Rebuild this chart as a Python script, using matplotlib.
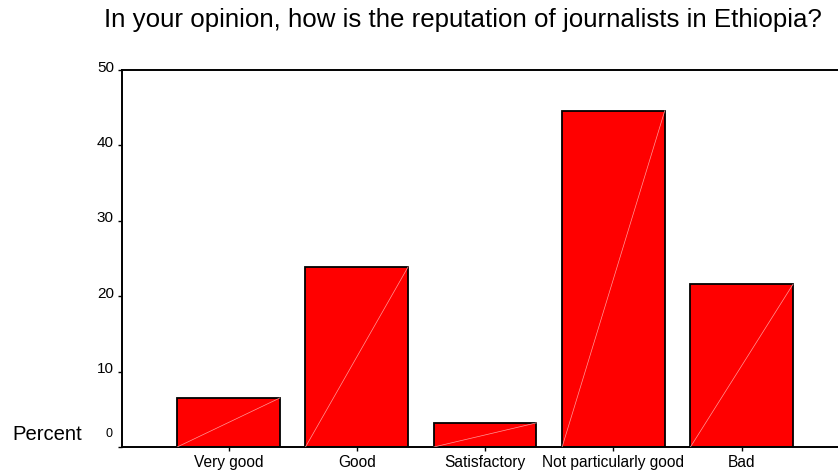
import matplotlib
matplotlib.use("Agg")
import matplotlib.pyplot as plt

categories = ["Very good", "Good", "Satisfactory", "Not particularly good", "Bad"]
percents = [6.5, 23.9, 3.2, 44.6, 21.6]
yticks = [0, 10, 20, 30, 40, 50]

plt.rcParams['font.family'] = ['Liberation Sans', 'DejaVu Sans']

fig = plt.figure(figsize=(8.38, 4.72), dpi=100)
W, H = 838, 472
ax = fig.add_axes([122 / W, (H - 447) / H, (838 - 122) / W, (447 - 70) / H])

x = list(range(len(categories)))
width = 0.8
ax.bar(x, percents, width=width, color="#ff0000", edgecolor="black", linewidth=1.3, zorder=2)
for xi, v in zip(x, percents):
    ax.plot([xi - width / 2, xi + width / 2], [0, v], color="#ff9a9a", lw=0.5, zorder=3)

ax.set_xlim(-0.83, 4.75)
ax.set_ylim(0, 50)
ax.set_xticks(x)
ax.set_xticklabels(categories, fontsize=11.2)
ax.set_yticks(yticks)
ax.set_yticklabels(["" for t in yticks])
ytrans = ax.get_yaxis_transform()
for t in yticks:
    if t == 0:
        ax.annotate(str(t), xy=(0, t), xycoords=ytrans, xytext=(-6.5, 9.4),
                    textcoords='offset points', ha='right', va='center', fontsize=9)
    else:
        ax.annotate(str(t), xy=(0, t), xycoords=ytrans, xytext=(-5.8, 1.8),
                    textcoords='offset points', ha='right', va='center', fontsize=11)
ax.tick_params(axis='y', length=3, width=1, pad=2, direction='out')
ax.tick_params(axis='x', length=3, width=1, pad=3, direction='out')
for s in ['left', 'bottom', 'top']:
    ax.spines[s].set_linewidth(1.4)
ax.spines['right'].set_visible(False)

fig.text(463 / W, 1 - 20 / H, "In your opinion, how is the reputation of journalists in Ethiopia?",
         ha='center', va='center', fontsize=18.6)
fig.text(12 / W, 1 - 435 / H, "Percent", ha='left', va='center', fontsize=14.6)

fig.savefig("out.png", dpi=100)
